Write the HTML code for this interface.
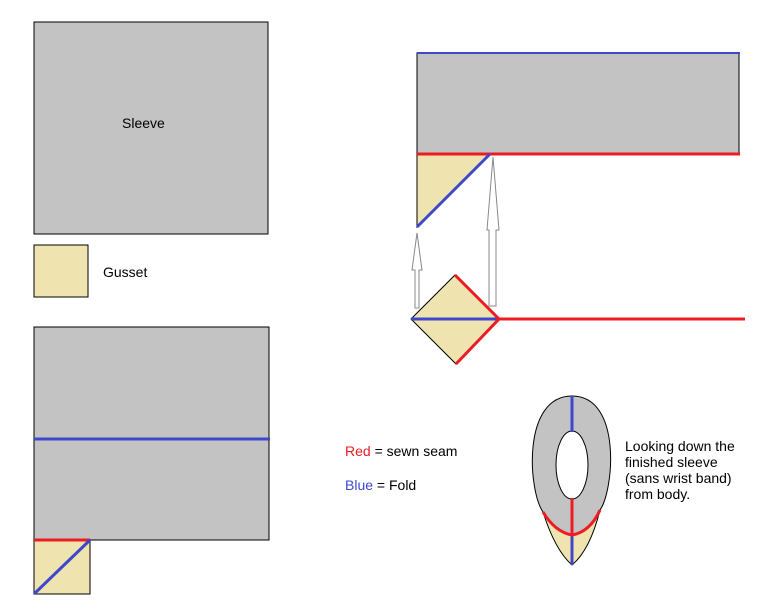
<!DOCTYPE html>
<html><head><style>body{margin:0;background:#fff}svg{display:block}text{font-family:"Liberation Sans",sans-serif;font-size:14px;fill:#000}</style></head><body>
<svg width="768" height="614" xmlns="http://www.w3.org/2000/svg">
<rect x="34" y="22" width="234" height="212" fill="#c3c3c3" stroke="#000" stroke-width="1"/>
<text x="122" y="128">Sleeve</text>
<rect x="34" y="245" width="54" height="52" fill="#efe4b0" stroke="#000" stroke-width="1"/>
<text x="103" y="277">Gusset</text>
<rect x="34" y="327" width="235" height="213" fill="#c3c3c3" stroke="#000" stroke-width="1"/>
<line x1="34" y1="439" x2="270" y2="439" stroke="#3f48cc" stroke-width="3"/>
<rect x="34" y="540" width="56" height="54" fill="#efe4b0" stroke="#000" stroke-width="1"/>
<line x1="34" y1="540" x2="90" y2="540" stroke="#ed1c24" stroke-width="3"/>
<line x1="34" y1="594" x2="90" y2="540" stroke="#3f48cc" stroke-width="3"/>
<rect x="417" y="53" width="322" height="101" fill="#c3c3c3" stroke="#000" stroke-width="1"/>
<line x1="417" y1="53" x2="740" y2="53" stroke="#3f48cc" stroke-width="2"/>
<polygon points="417,154 490,154 417,227" fill="#efe4b0" stroke="#000" stroke-width="1"/>
<line x1="417" y1="154" x2="740" y2="154" stroke="#ed1c24" stroke-width="3"/>
<line x1="417" y1="227" x2="490" y2="154" stroke="#3f48cc" stroke-width="3"/>
<polygon points="415,308 419,308 419,270 422,270 417,233 412,270 415,270" fill="#fff" stroke="#888" stroke-width="1"/>
<polygon points="489,306 496,306 496,230 499,230 493,157 487,230 489,230" fill="#fff" stroke="#888" stroke-width="1"/>
<polygon points="411,319 455,275 499,319 456,364" fill="#efe4b0" stroke="#000" stroke-width="1"/>
<line x1="411" y1="319" x2="499" y2="319" stroke="#3f48cc" stroke-width="3"/>
<polyline points="455,275 499,319 456,364" fill="none" stroke="#ed1c24" stroke-width="3"/>
<line x1="499" y1="319" x2="745" y2="319" stroke="#ed1c24" stroke-width="3"/>
<text x="345" y="456"><tspan fill="#ed1c24">Red</tspan> = sewn seam</text>
<text x="345" y="490"><tspan fill="#3f48cc">Blue</tspan> = Fold</text>
<path d="M543,512 Q555,550 572,565 Q590,550 600,510 Z" fill="#efe4b0" stroke="#000" stroke-width="1"/>
<path d="M572,396 C622,396 614,490 600,510 Q590,530 572,535 Q555,530 543,512 C528,490 522,396 572,396 Z" fill="#c3c3c3" stroke="#000" stroke-width="1"/>
<ellipse cx="572" cy="465" rx="16" ry="34" fill="#fff" stroke="#000" stroke-width="1"/>
<line x1="572" y1="396" x2="572" y2="432" stroke="#3f48cc" stroke-width="3"/>
<line x1="572" y1="535" x2="572" y2="565" stroke="#3f48cc" stroke-width="3"/>
<line x1="572" y1="498" x2="572" y2="535" stroke="#ed1c24" stroke-width="3"/>
<path d="M543,512 Q555,532 572,535 Q590,532 600,510" fill="none" stroke="#ed1c24" stroke-width="3"/>
<text x="625" y="451">Looking down the</text>
<text x="625" y="467">finished sleeve</text>
<text x="625" y="483">(sans wrist band)</text>
<text x="625" y="499">from body.</text>
</svg>
</body></html>
